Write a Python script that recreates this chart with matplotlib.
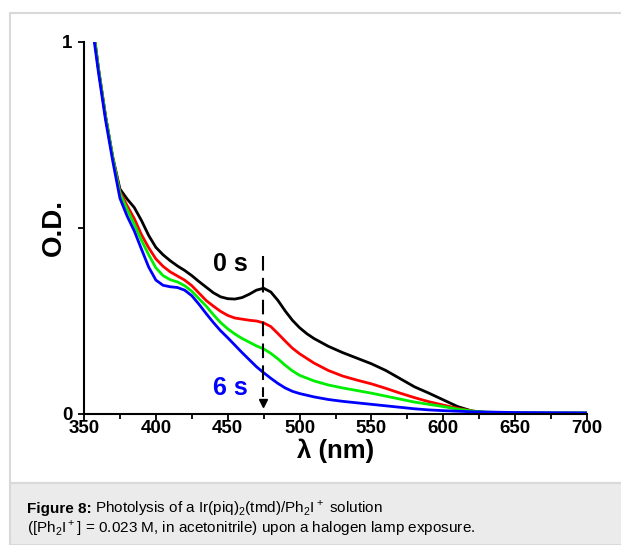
import numpy as np
import matplotlib
matplotlib.use("Agg")
import matplotlib.pyplot as plt
from matplotlib.patches import Rectangle

plt.rcParams['font.family'] = ['Liberation Sans', 'DejaVu Sans']
plt.rcParams['mathtext.fontset'] = 'custom'
plt.rcParams['mathtext.rm'] = 'Liberation Sans'
plt.rcParams['mathtext.bf'] = 'Liberation Sans:bold'

# spectra (wavelength in nm, optical density)
wl_0s = [357, 360, 365, 370, 375, 380, 385, 390, 395, 400, 405, 410, 415, 420, 425, 430, 435, 440,
         445, 450, 455, 460, 465, 470, 475, 480, 485, 490, 495, 500, 505, 510, 520, 530, 540, 550,
         560, 570, 580, 590, 600, 610, 620, 630, 650, 700]
od_0s = [1.02, 0.93, 0.80, 0.69, 0.605, 0.578, 0.555, 0.52, 0.48, 0.448, 0.428, 0.412, 0.398, 0.386,
         0.372, 0.356, 0.341, 0.326, 0.315, 0.31, 0.309, 0.313, 0.322, 0.333, 0.338, 0.328, 0.305,
         0.277, 0.252, 0.232, 0.216, 0.203, 0.182, 0.165, 0.15, 0.135, 0.117, 0.095, 0.073, 0.056,
         0.038, 0.02, 0.008, 0.003, 0.002, 0.002]

wl_2s = [357, 360, 365, 370, 375, 380, 385, 390, 395, 400, 405, 410, 415, 420, 425, 430, 435, 440,
         445, 450, 455, 460, 465, 470, 475, 480, 485, 490, 495, 500, 510, 520, 530, 540, 550, 560,
         570, 580, 590, 600, 610, 620, 630, 650, 700]
od_2s = [1.02, 0.93, 0.80, 0.69, 0.598, 0.56, 0.525, 0.482, 0.447, 0.417, 0.397, 0.382, 0.371, 0.36,
         0.345, 0.325, 0.305, 0.29, 0.276, 0.265, 0.258, 0.255, 0.252, 0.25, 0.245, 0.235, 0.216,
         0.196, 0.177, 0.162, 0.137, 0.117, 0.102, 0.091, 0.081, 0.069, 0.056, 0.044, 0.033, 0.024,
         0.015, 0.008, 0.004, 0.002, 0.002]

wl_4s = [357, 360, 365, 370, 375, 380, 385, 390, 395, 400, 405, 410, 415, 420, 425, 430, 435, 440,
         445, 450, 455, 460, 465, 470, 475, 480, 485, 490, 495, 500, 510, 520, 530, 540, 550, 560,
         570, 580, 590, 600, 610, 620, 630, 650, 700]
od_4s = [1.02, 0.93, 0.80, 0.69, 0.593, 0.55, 0.51, 0.467, 0.428, 0.393, 0.372, 0.361, 0.355, 0.345,
         0.33, 0.31, 0.29, 0.267, 0.246, 0.229, 0.215, 0.203, 0.193, 0.183, 0.175, 0.163, 0.148,
         0.131, 0.116, 0.104, 0.089, 0.078, 0.07, 0.063, 0.056, 0.048, 0.04, 0.032, 0.026, 0.02,
         0.013, 0.008, 0.005, 0.003, 0.003]

wl_6s = [356.5, 360, 365, 370, 375, 380, 385, 390, 395, 400, 405, 410, 415, 420, 425, 430, 435, 440,
         445, 450, 455, 460, 465, 470, 475, 480, 485, 490, 495, 500, 510, 520, 530, 540, 550, 560,
         570, 580, 590, 600, 620, 650, 700]
od_6s = [1.02, 0.92, 0.79, 0.68, 0.58, 0.532, 0.492, 0.443, 0.395, 0.36, 0.346, 0.342, 0.34, 0.333,
         0.318, 0.295, 0.27, 0.246, 0.224, 0.205, 0.185, 0.165, 0.146, 0.127, 0.111, 0.096, 0.082,
         0.07, 0.061, 0.055, 0.046, 0.039, 0.034, 0.03, 0.026, 0.022, 0.018, 0.014, 0.011, 0.009,
         0.006, 0.004, 0.003]

series = [(wl_0s, od_0s, '#000000'), (wl_2s, od_2s, '#ff0000'),
          (wl_4s, od_4s, '#00ee00'), (wl_6s, od_6s, '#0000ff')]

fig = plt.figure(figsize=(6.21, 5.45), dpi=100)
W, H = 621, 545

# outer frame and caption band (behind the axes)
fig.patches.append(Rectangle((10 / W, 62 / H), 700 / W, (H - 13 - 62) / H, transform=fig.transFigure,
                             facecolor='white', edgecolor='#d9d9d9', lw=1.5, zorder=-10))
fig.patches.append(Rectangle((10 / W, 0), 700 / W, 62 / H, transform=fig.transFigure,
                             facecolor='#ebebeb', edgecolor='#d9d9d9', lw=1.5, zorder=-10))

ax = fig.add_axes([84 / W, 1 - 414 / H, (587 - 84) / W, (414 - 42) / H])
ax.patch.set_alpha(0)
for wl, od, c in series:
    ax.plot(wl, od, color=c, lw=2, clip_on=True, solid_joinstyle='round')

ax.set_xlim(350, 700)
ax.set_ylim(0, 1)
for s in ['top', 'right']:
    ax.spines[s].set_visible(False)
for s in ['left', 'bottom']:
    ax.spines[s].set_linewidth(1.5)

ax.set_xticks(np.arange(350, 701, 50))
ax.set_xticks(np.arange(375, 700, 50), minor=True)
ax.set_yticks([0, 0.5, 1])
ax.set_yticklabels(['0', '', '1'])
ax.tick_params(axis='both', which='major', direction='out', length=4.5, width=1.3,
               labelsize=13.5)
ax.tick_params(axis='x', which='major', pad=0)
ax.tick_params(axis='y', which='major', pad=4)
ax.tick_params(axis='x', which='minor', direction='out', length=3.5, width=1.3)
for lab in ax.get_xticklabels() + ax.get_yticklabels():
    lab.set_fontweight('bold')

ax.set_xlabel('λ (nm)', fontsize=18.5, fontweight='bold', labelpad=1)
ax.set_ylabel('O.D.', fontsize=20, fontweight='bold', labelpad=-4)

# time arrow
ax.plot([474.5, 474.5], [0.425, 0.045], color='black', lw=1.5, dashes=(7, 3.5))
ax.plot([474.5], [0.03], marker='v', color='black', markersize=6, ls='none')
ax.text(440, 0.403, '0 s', fontsize=18, fontweight='bold', color='black', va='center')
ax.text(440, 0.07, '6 s', fontsize=18, fontweight='bold', color='#0000ff', va='center')

# caption
t1 = fig.text(27 / W, 1 - 513 / H, 'Figure 8:', fontsize=11, fontweight='bold', va='baseline')
fig.canvas.draw()
bb = t1.get_window_extent()
fig.text((bb.x1 + 3) / W, 1 - 513 / H,
         r'Photolysis of a Ir(piq)$_2$(tmd)/Ph$_2$I$^+$ solution', fontsize=11, va='baseline')
fig.text(27 / W, 1 - 533 / H,
         r'([Ph$_2$I$^+$] = 0.023 M, in acetonitrile) upon a halogen lamp exposure.',
         fontsize=11, va='baseline')

fig.savefig('out.png', dpi=100)
